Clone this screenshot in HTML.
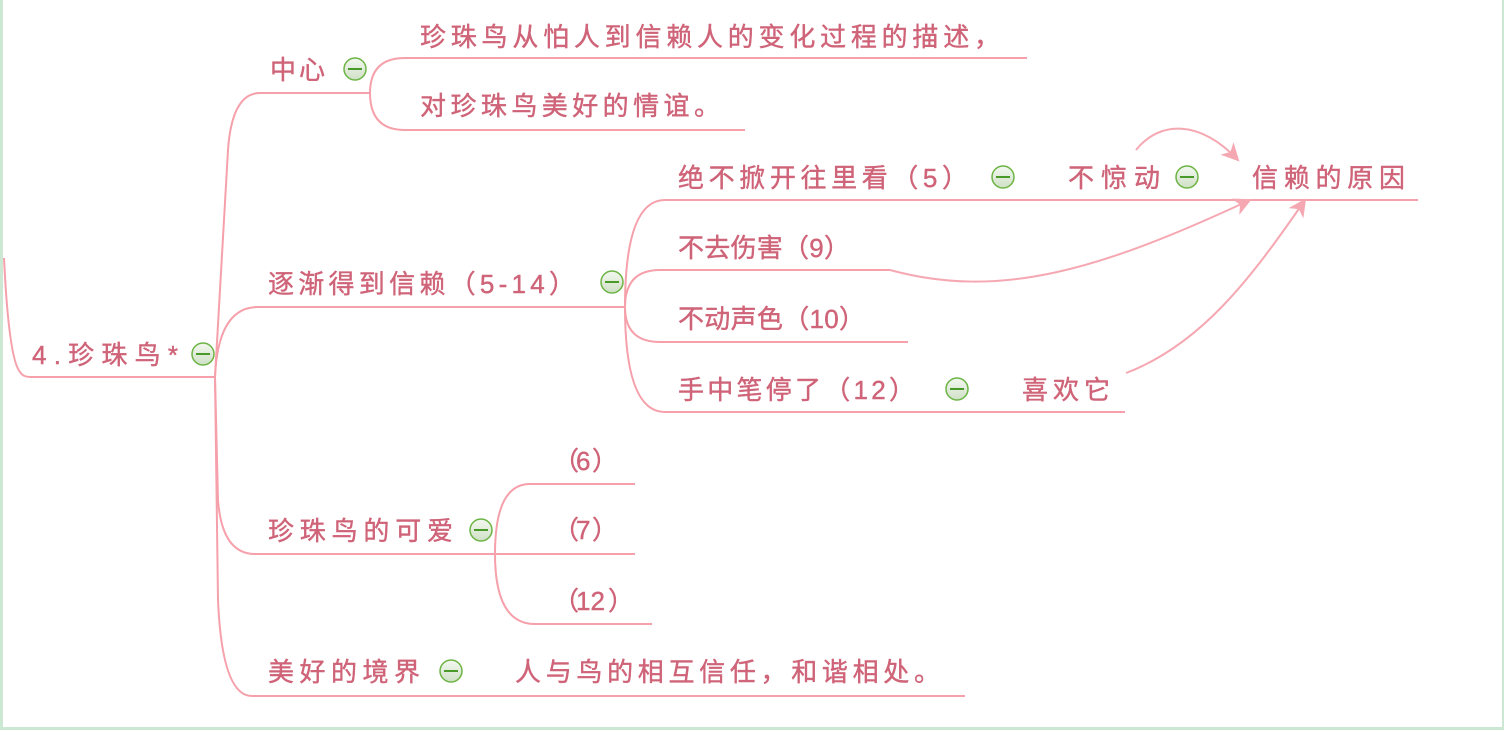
<!DOCTYPE html>
<html><head><meta charset="utf-8"><style>
html,body{margin:0;padding:0;background:#fff}
svg{display:block}
text{font-family:"Liberation Sans","Noto Sans CJK SC",sans-serif;font-size:26px;fill:#cf6378;stroke:#cf6378;stroke-width:0.4;font-feature-settings:"liga" 0,"dlig" 0,"calt" 0}
</style></head><body>
<svg width="1504" height="730" viewBox="0 0 1504 730" xmlns="http://www.w3.org/2000/svg">
<defs>
<linearGradient id="g" x1="0" y1="0" x2="0" y2="1"><stop offset="0" stop-color="#f4f8f0"/><stop offset="1" stop-color="#cfe0c6"/></linearGradient>
<marker id="ah" markerWidth="20" markerHeight="20" refX="16" refY="9" orient="auto" markerUnits="userSpaceOnUse"><path d="M0,0 L18,9 L0,18 L5,9 Z" fill="#f5a8b2"/></marker>
</defs>
<rect x="0" y="0" width="3" height="730" fill="#cde8d2"/>
<rect x="1502" y="0" width="2" height="730" fill="#cde8d2"/>
<rect x="0" y="727" width="1504" height="3" fill="#cde8d2"/>
<g fill="none" stroke="#f5a0aa" stroke-width="2">
<path d="M4,258 C6,300 10,360 20,372 Q23,377 30,377 L215,377"/>
<path d="M215,377 L228,150 Q232,93 260,93 L370,93"/>
<path d="M215,377 Q218,307 258,307 L625,307"/>
<path d="M215,377 L218,500 Q222,554 255,554 L495,554"/>
<path d="M215,377 L218,600 Q222,696 252,696 L965,696"/>
<path d="M370,93 Q370,58 405,58 L1027,58"/>
<path d="M370,93 Q370,130 405,130 L745,130"/>
<path d="M625,307 Q625,200 665,200 L1418,200"/>
<path d="M625,307 Q625,270 660,270 L890,270"/>
<path d="M625,307 Q625,342 660,342 L908,342"/>
<path d="M625,307 Q625,412 665,412 L1125,412"/>
<path d="M495,554 Q495,484 530,484 L635,484"/>
<path d="M495,554 L635,554"/>
<path d="M495,554 Q495,624 535,624 L652,624"/>
</g>
<g fill="none" stroke="#f5a8b2" stroke-width="2">
<path d="M1136,150 C1160,120 1200,120 1238,160" marker-end="url(#ah)"/>
<path d="M890,270 C1000,300 1100,270 1250,200" marker-end="url(#ah)"/>
<path d="M1126,373 C1200,345 1250,280 1305,200" marker-end="url(#ah)"/>
</g>
<g>
<text x="270" y="79" textLength="55">中心</text>
<text x="420" y="46" textLength="580">珍珠鸟从怕人到信赖人的变化过程的描述，</text>
<text x="420" y="115" textLength="300">对珍珠鸟美好的情谊。</text>
<text x="32" y="364" textLength="146">4.珍珠鸟*</text>
<text x="268" y="293" textLength="307">逐渐得到信赖（5-14）</text>
<text x="678" y="187" textLength="290">绝不掀开往里看（5）</text>
<text x="1068" y="187" textLength="92">不惊动</text>
<text x="1252" y="187" textLength="153">信赖的原因</text>
<text x="678" y="257" textLength="172">不去伤害（9）</text>
<text x="678" y="328" textLength="187">不动声色（10）</text>
<text x="678" y="399" textLength="237">手中笔停了（12）</text>
<text x="1022" y="399" textLength="88">喜欢它</text>
<text y="470"><tspan x="553">（</tspan><tspan x="576">6</tspan><tspan x="592">）</tspan></text>
<text y="539"><tspan x="553">（</tspan><tspan x="576">7</tspan><tspan x="592">）</tspan></text>
<text y="610"><tspan x="553">（</tspan><tspan x="576">12</tspan><tspan x="608">）</tspan></text>
<text x="268" y="540" textLength="185">珍珠鸟的可爱</text>
<text x="268" y="681" textLength="152">美好的境界</text>
<text x="515" y="681" textLength="425">人与鸟的相互信任，和谐相处。</text>
</g>
<g stroke="#6cb444" stroke-width="1.5" fill="url(#g)">
<circle cx="355" cy="69" r="11"/><circle cx="203" cy="354" r="11"/><circle cx="612" cy="282" r="11"/>
<circle cx="1003" cy="177" r="11"/><circle cx="1187" cy="177" r="11"/><circle cx="957" cy="389" r="11"/>
<circle cx="481" cy="530" r="11"/><circle cx="451" cy="671" r="11"/>
</g>
<g stroke="#4a9a2a" stroke-width="2">
<line x1="348" y1="69" x2="362" y2="69"/><line x1="196" y1="354" x2="210" y2="354"/><line x1="605" y1="282" x2="619" y2="282"/>
<line x1="996" y1="177" x2="1010" y2="177"/><line x1="1180" y1="177" x2="1194" y2="177"/><line x1="950" y1="389" x2="964" y2="389"/>
<line x1="474" y1="530" x2="488" y2="530"/><line x1="444" y1="671" x2="458" y2="671"/>
</g>
</svg>
</body></html>
